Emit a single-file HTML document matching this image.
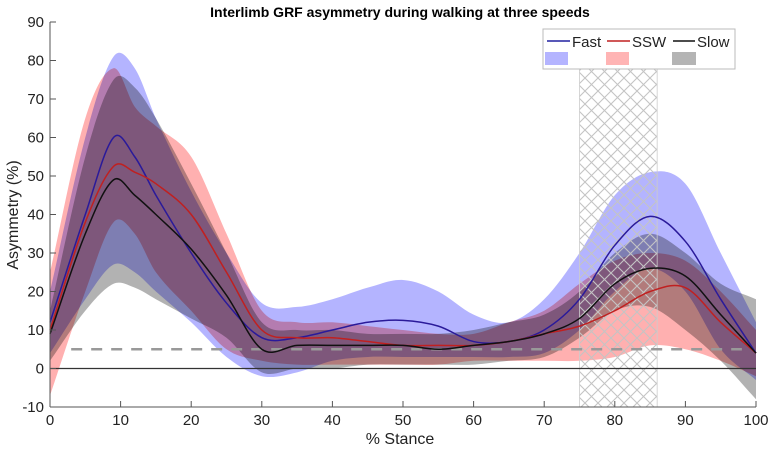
<!DOCTYPE html>
<html><head><meta charset="utf-8"><style>
body{margin:0;background:#fff;}
svg text{font-family:"Liberation Sans",Arial,sans-serif;}
</style></head><body>
<svg id="chart" width="771" height="451" viewBox="0 0 771 451" xmlns="http://www.w3.org/2000/svg">
<defs>
<pattern id="hatch" width="13" height="13" patternUnits="userSpaceOnUse">
<path d="M0,0 L13,13 M13,0 L0,13" stroke="#c4c4c4" stroke-width="1.1" fill="none"/>
</pattern>
</defs>
<text x="400" y="17" text-anchor="middle" font-size="14" font-weight="bold">Interlimb GRF asymmetry during walking at three speeds</text>
<g id="plot"></g>
<g id="axes"></g>
<text x="400" y="444" text-anchor="middle" font-size="16" fill="#222">% Stance</text>
<text transform="translate(18,215) rotate(-90)" text-anchor="middle" font-size="16" fill="#222">Asymmetry (%)</text>
<g>
<rect x="543" y="29" width="192" height="40" fill="#fff" stroke="#bbb"/>
<line x1="547" y1="41" x2="570" y2="41" stroke="#2020a0" stroke-width="1.5"/>
<text x="572" y="47" font-size="15" fill="#222">Fast</text>
<line x1="607" y1="41" x2="630" y2="41" stroke="#c02020" stroke-width="1.5"/>
<text x="632" y="47" font-size="15" fill="#222">SSW</text>
<line x1="673" y1="41" x2="695" y2="41" stroke="#111" stroke-width="1.5"/>
<text x="697" y="47" font-size="15" fill="#222">Slow</text>
<rect x="545" y="52" width="23" height="13" fill="#b4b4ff"/>
<rect x="606" y="52" width="23" height="13" fill="#ffb4b4"/>
<rect x="672" y="52" width="24" height="13" fill="#b4b4b4"/>
</g>
</svg>
<script>
const xs=[0,5,9,12,15,20,25,30,35,40,45,50,55,60,65,70,75,80,85,90,95,100];
const fastMean=[12,40,60,55,45,30,17,8,8,10,12,12.5,11,7,7,10,18,32,39.5,33,18,4];
const fastUp=[20,60,81,78,65,46,30,17,16,18,21,23,20,14,12,18,30,45,51,48,30,12];
const fastLo=[4,18,27,25,20,12,3,-2,-1,2,3,3,3,3,3,4,10,20,26,20,5,-3];
const sswMean=[10,38,52.5,51,48,40,25,10,8,8,7,6,6,6,7,9,11,15,20,21,12,4];
const sswUp=[25,65,78,68,63,55,35,15,12,12,11,10,9,9,12,15,22,28,30,28,20,10];
const sswLo=[-7,20,38,35,25,15,5,2,1,1,1,1,1,2,2,2,2,3,6,5,2,-2];
const slowMean=[9,35,49,45,40,31,19,5,6,6,6,6,5,6,7,9,13,22,26,24,14,4];
const slowUp=[15,55,75,73,65,48,30,12,10,10,9,9,9,10,12,14,20,30,35,30,22,18];
const slowLo=[2,15,22,21,18,13,8,-1,0,0,1,1,1,1,2,3,8,15,16,10,2,-8];
const xTicks=[0,10,20,30,40,50,60,70,80,90,100];
const yTicks=[-10,0,10,20,30,40,50,60,70,80,90];
const hatchRange=[75,86];
const threshold=5;

const X0=50,X1=756,Y0=407,Y1=22;
const sx=v=>X0+(v-0)/100*(X1-X0);
const sy=v=>Y0-(v+10)/100*(Y0-Y1);
const NS="http://www.w3.org/2000/svg";
const plot=document.getElementById('plot'),axes=document.getElementById('axes');
function mk(tag,attrs,parent){const e=document.createElementNS(NS,tag);for(const k in attrs)e.setAttribute(k,attrs[k]);parent.appendChild(e);return e;}
function curve(arr,reverse,move){
 const n=xs.length;const m=[];
 for(let i=0;i<n;i++){const a=Math.max(i-1,0),b=Math.min(i+1,n-1);m.push((arr[b]-arr[a])/(xs[b]-xs[a]));}
 let idx=[...Array(n).keys()];if(reverse)idx.reverse();
 const p=i=>[sx(xs[i]),sy(arr[i])];
 let d=(move?'M':'L')+p(idx[0]).join(',');
 for(let k=0;k<n-1;k++){const i=idx[k],j=idx[k+1];const dx=(xs[j]-xs[i])/3;
  const c1=[sx(xs[i]+dx),sy(arr[i]+m[i]*dx)],c2=[sx(xs[j]-dx),sy(arr[j]-m[j]*dx)];
  d+=` C${c1} ${c2} ${p(j)}`;}
 return d;}

const bands=mk('g',{style:'isolation:isolate'},plot);
const series=[
 {n:'slow',up:slowUp,lo:slowLo,m:slowMean,fill:'#b2b2b2',line:'#111'},
 {n:'ssw',up:sswUp,lo:sswLo,m:sswMean,fill:'#ffb0b0',line:'#c02020'},
 {n:'fast',up:fastUp,lo:fastLo,m:fastMean,fill:'#b4b4ff',line:'#2a1a9a'}];
series.forEach(s=>{
 const d=curve(s.up,false,true)+' '+curve(s.lo,true,false)+' Z';
 const b=mk('path',{d:d,fill:s.fill,stroke:'none',style:'mix-blend-mode:multiply'},bands);
 
 
});
const hr=mk('rect',{x:sx(hatchRange[0]),y:sy(78),width:sx(hatchRange[1])-sx(hatchRange[0]),height:sy(-10)-sy(78),fill:'url(#hatch)',stroke:'#ccc','stroke-width':0.8},plot);


const th=mk('line',{x1:sx(3),x2:sx(98),y1:sy(threshold),y2:sy(threshold),stroke:'#999','stroke-width':2.5,'stroke-dasharray':'11,9'},plot);


const zl=mk('line',{x1:X0,x2:X1,y1:sy(0),y2:sy(0),stroke:'#333','stroke-width':1.2},plot);


[series[2],series[1],series[0]].forEach(s=>{
 const l=mk('path',{d:curve(s.m,false,true),fill:'none',stroke:s.line,'stroke-width':1.5},plot);
 
 
});
const ax=mk('line',{x1:X0,x2:X1,y1:Y0,y2:Y0,stroke:'#555'},axes);


const ay=mk('line',{x1:X0,x2:X0,y1:Y0,y2:Y1,stroke:'#555'},axes);


xTicks.forEach(t=>{
 mk('line',{x1:sx(t),x2:sx(t),y1:Y0,y2:Y0-6,stroke:'#555'},axes);
 const tx=mk('text',{x:sx(t),y:Y0+18,'text-anchor':'middle','font-size':15,fill:'#222'},axes);
 tx.textContent=t;
 
 
});
yTicks.forEach(t=>{
 mk('line',{x1:X0,x2:X0+6,y1:sy(t),y2:sy(t),stroke:'#555'},axes);
 const tx=mk('text',{x:X0-6,y:sy(t)+5,'text-anchor':'end','font-size':15,fill:'#222'},axes);
 tx.textContent=t;
 
 
});
</script>
</body></html>
